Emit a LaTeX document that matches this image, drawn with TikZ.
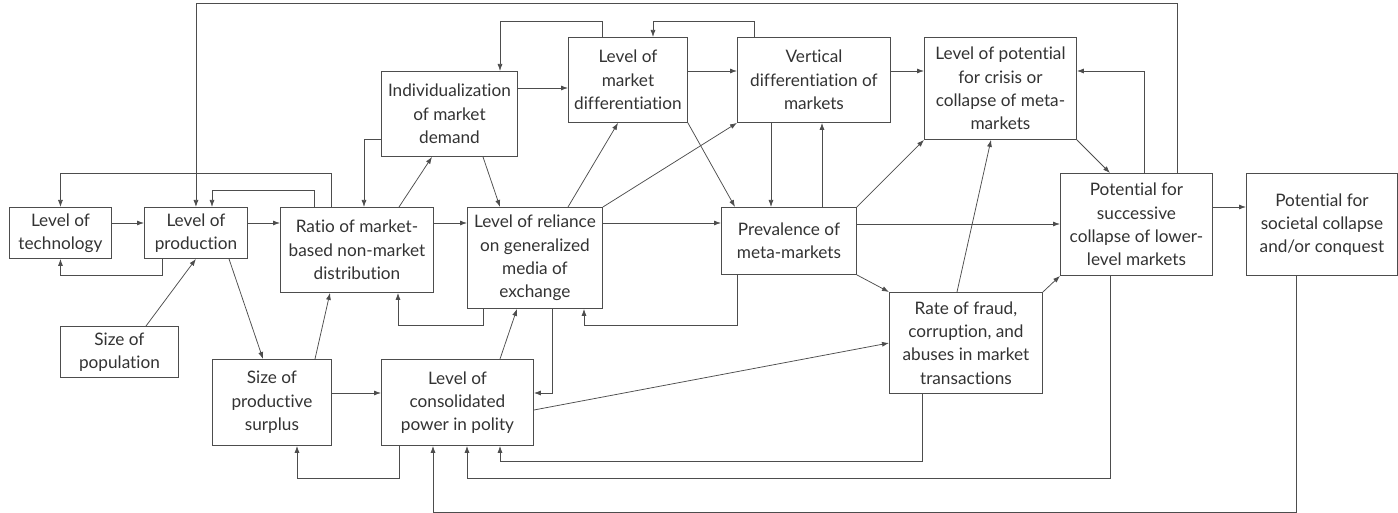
\documentclass[tikz,border=0pt]{standalone}
\usepackage{fontspec}
\setmainfont{Lato}[Ligatures=NoCommon]
\usetikzlibrary{arrows.meta,calc}
\definecolor{ink}{HTML}{333333}
\definecolor{edge}{HTML}{4D4D4D}

% box given by its top-left and bottom-right corners (x1,y1,x2,y2)
\newcommand\boxnode[6]{%
  \node[box,anchor=north west,minimum width={#4-#2},minimum height={#5-#3}] (#1) at (#2,#3) {#6};}

\begin{document}
\begin{tikzpicture}[x=1pt,y=-1pt,
  box/.style={draw=edge, line width=0.9pt, fill=white, text=ink, align=center,
    inner sep=0pt, font=\fontsize{17.2}{23.3}\selectfont},
  arr/.style={draw=edge, line width=0.75pt, -{Latex[length=7pt,width=5pt]}},
]
\useasboundingbox (0,0) rectangle (1398,513);

% boxes
\boxnode{tech}{9}{207}{111}{258}{Level of\\technology}
\boxnode{prod}{144}{207}{247}{258}{Level of\\production}
\boxnode{ratio}{280}{207}{433}{292}{Ratio of market-\\based non-market\\distribution}
\boxnode{pop}{60}{326}{178}{377}{Size of\\population}
\boxnode{surplus}{212}{359}{331}{445}{Size of\\productive\\surplus}
\boxnode{cons}{381}{359}{533}{445}{Level of\\consolidated\\power in polity}
\boxnode{indiv}{381}{71}{517}{156}{Individualization\\of market\\demand}
\boxnode{mdiff}{568}{37}{687}{122}{Level of\\market\\differentiation}
\boxnode{vdiff}{737}{37}{890}{122}{Vertical\\differentiation of\\markets}
\boxnode{crisis}{924}{37}{1076}{139}{Level of potential\\for crisis or\\collapse of meta-\\markets}
\boxnode{succ}{1060}{173}{1212}{275}{Potential for\\successive\\collapse of lower-\\level markets}
\boxnode{soc}{1246}{173}{1397}{275}{Potential for\\societal collapse\\and/or conquest}
\boxnode{rel}{467}{207}{602}{308}{Level of reliance\\on generalized\\media of\\exchange}
\boxnode{prev}{721}{207}{856}{274}{Prevalence of\\meta-markets}
\boxnode{fraud}{889}{292}{1042}{393}{Rate of fraud,\\corruption, and\\abuses in market\\transactions}

% connectors
\draw[arr] (succ.north -| 1177,0) -- (1177,3) -| (prod.north);
\draw[arr] (ratio.north -| 331,0) -- (331,173) -| (tech.north);
\draw[arr] (ratio.north -| 314,0) -- (314,190) -| (prod.north -| 212,0);
\draw[arr] (tech.east |- 0,223) -- (prod.west |- 0,223);
\draw[arr] (prod.east |- 0,223) -- (ratio.west |- 0,223);
\draw[arr] (prod.south -| 162,0) -- (162,275) -| (tech.south);
\draw[arr] (pop.north -| 146,0) -- (prod.south);
\draw[arr] (prod.south -| 229,0) -- (surplus.north -| 263,0);
\draw[arr] (surplus.north -| 315,0) -- (ratio.south -| 330,0);
\draw[arr] (rel.south -| 483,0) -- (483,325) -| (ratio.south -| 398,0);
\draw[arr] (ratio.north -| 399,0) -- (indiv.south -| 432,0);
\draw[arr] (indiv.west |- 0,139) -- (364,139) -- (ratio.north -| 364,0);
\draw[arr] (indiv.south -| 483,0) -- (rel.north -| 500,0);
\draw[arr] (indiv.east |- 0,88) -- (mdiff.west |- 0,88);
\draw[arr] (mdiff.north -| 602,0) -- (602,21) -| (indiv.north -| 500,0);
\draw[arr] (ratio.east |- 0,223) -- (rel.west |- 0,223);
\draw[arr] (rel.north -| 568,0) -- (mdiff.south -| 618,0);
\draw[arr] (rel.north east) -- (vdiff.south west);
\draw[arr] (rel.east |- 0,223) -- (prev.west |- 0,223);
\draw[arr] (mdiff.east |- 0,71) -- (vdiff.west |- 0,71);
\draw[arr] (vdiff.north -| 754,0) -- (754,21) -| (mdiff.north -| 653,0);
\draw[arr] (mdiff.south east) -- (prev.north -| 735,0);
\draw[arr] (vdiff.south -| 771,0) -- (prev.north -| 771,0);
\draw[arr] (prev.north -| 822,0) -- (vdiff.south -| 822,0);
\draw[arr] (vdiff.east |- 0,71) -- (crisis.west |- 0,71);
\draw[arr] (prev.north east) -- (crisis.south west);
\draw[arr] (prev.east |- 0,224) -- (succ.west |- 0,224);
\draw[arr] (prev.south -| 737,0) -- (737,325) -| (rel.south -| 584,0);
\draw[arr] (prev.south east) -- (fraud.north west);
\draw[arr] (fraud.north -| 957,0) -- (crisis.south -| 991,0);
\draw[arr] (fraud.north east) -- (succ.south west);
\draw[arr] (crisis.south east) -- (succ.north -| 1110,0);
\draw[arr] (succ.north -| 1144,0) |- (crisis.east |- 0,71);
\draw[arr] (succ.east |- 0,207) -- (soc.west |- 0,207);
\draw[arr] (rel.south -| 552,0) |- (cons.east |- 0,393);
\draw[arr] (cons.north -| 500,0) -- (rel.south -| 517,0);
\draw[arr] (surplus.east |- 0,393) -- (cons.west |- 0,393);
\draw[arr] (cons.east |- 0,410) -- (fraud.west |- 0,343);
\draw[arr] (cons.south -| 399,0) -- (399,478) -| (surplus.south -| 297,0);
\draw[arr] (fraud.south -| 922,0) -- (922,461) -| (cons.south -| 500,0);
\draw[arr] (succ.south -| 1110,0) -- (1110,478) -| (cons.south -| 467,0);
\draw[arr] (soc.south -| 1296,0) -- (1296,512) -| (cons.south -| 433,0);
\end{tikzpicture}
\end{document}
